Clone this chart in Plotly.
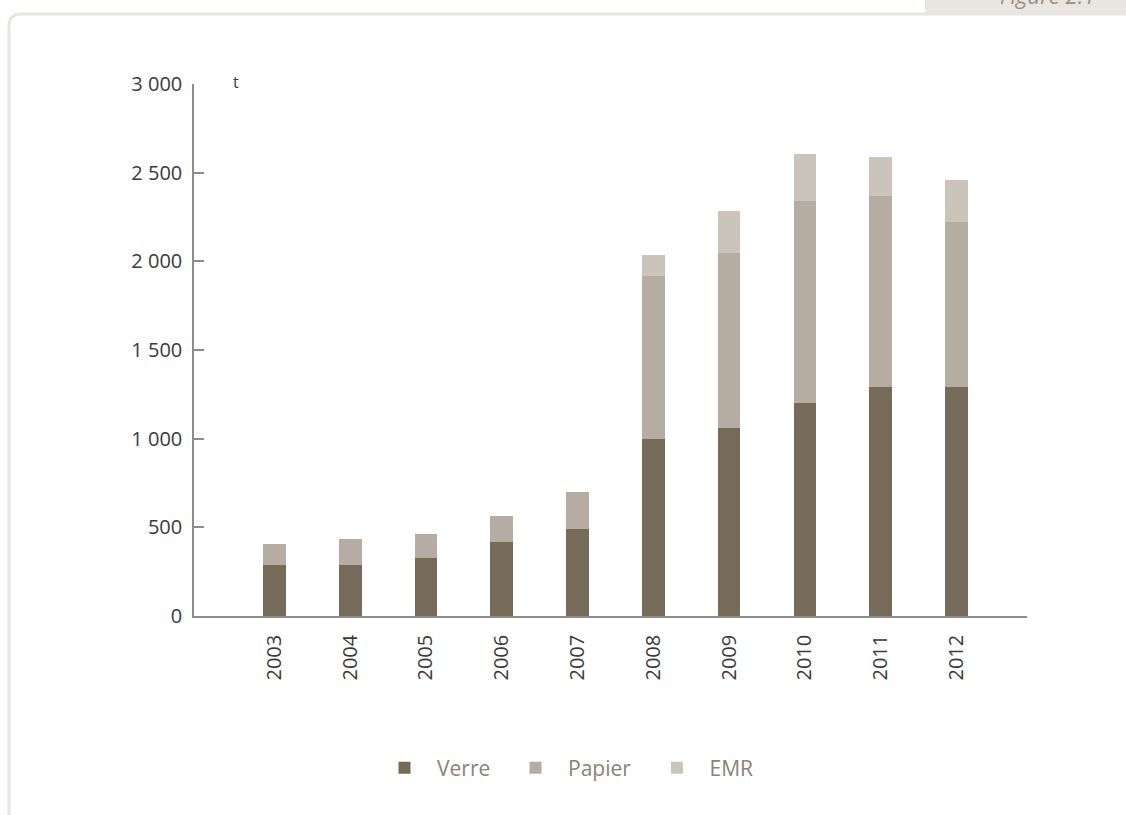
import plotly.graph_objects as go

years = ["2003", "2004", "2005", "2006", "2007", "2008", "2009", "2010", "2011", "2012"]
verre = [288, 288, 328, 418, 490, 1000, 1062, 1202, 1292, 1292]
papier = [117, 145, 133, 145, 208, 918, 985, 1138, 1076, 930]
emr = [0, 0, 0, 0, 0, 118, 238, 265, 220, 237]
series_names = ["Verre", "Papier", "EMR"]
colors = ["#766a58", "#b5ada2", "#cbc4ba"]
y_ticks = [0, 500, 1000, 1500, 2000, 2500, 3000]
y_ticktext = ["0", "500", "1 000", "1 500", "2 000", "2 500", "3 000"]

W, H = 1126, 815
L, R, T, B = 194, 99, 84, 199
pw, ph = W - L - R, H - T - B

def px(x):
    return (x - L) / pw

def py(y):
    return (H - B - y) / ph

legend_ids = ["legend", "legend2", "legend3"]
legend_symbol_x = [404.5, 535.5, 677.0]

fig = go.Figure()
for name, vals, col, lg in zip(series_names, [verre, papier, emr], colors, legend_ids):
    fig.add_trace(go.Bar(x=years, y=vals, name=name, legend=lg,
                         marker=dict(color=col, line=dict(width=0)), width=0.3))

font_fam = "Open Sans"
fig.update_layout(
    width=W, height=H,
    barmode="stack",
    plot_bgcolor="white", paper_bgcolor="white",
    margin=dict(l=L, r=R, t=T, b=B, autoexpand=False),
    font=dict(family=font_fam, color="#3a3a3a"),
    xaxis=dict(
        type="category", range=[-1.06, 9.93],
        showline=True, linecolor="#8c8c8c", linewidth=1.5,
        ticks="", tickangle=-90, ticklabelstandoff=9,
        tickfont=dict(size=20, color="#3a3a3a", family=font_fam),
        showgrid=False, zeroline=False, fixedrange=True,
    ),
    yaxis=dict(
        range=[0, 3000], tickvals=y_ticks, ticktext=y_ticktext,
        showline=True, linecolor="#8c8c8c", linewidth=1.5,
        ticks="inside", ticklen=10, tickcolor="#8c8c8c", tickwidth=1.5,
        ticklabelstandoff=6,
        tickfont=dict(size=20, color="#3a3a3a", family=font_fam),
        showgrid=False, zeroline=False, fixedrange=True,
    ),
    showlegend=True,
)
for lg, sx in zip(legend_ids, legend_symbol_x):
    fig.update_layout({lg: dict(
        orientation="h", x=px(sx - 32.5), xanchor="left", y=py(768), yanchor="middle",
        itemwidth=55, font=dict(size=21, color="#8c8274", family=font_fam),
        bgcolor="rgba(0,0,0,0)", borderwidth=0,
    )})

# outer rounded frame
frame_path = (f"M {px(9)} {py(830)} L {px(9)} {py(26)} Q {px(9)} {py(14)} {px(21)} {py(14)} "
              f"L {px(1140)} {py(14)}")
fig.add_shape(type="path", path=frame_path, xref="paper", yref="paper",
              line=dict(color="#e9e6e2", width=3), layer="below")
# figure tab
fig.add_shape(type="rect", xref="paper", yref="paper",
              x0=px(925), x1=px(1140), y0=py(14), y1=py(-5),
              fillcolor="#e9e6e2", line=dict(width=0), layer="below")
fig.add_annotation(text="<i>Figure 2.1</i>", xref="paper", yref="paper",
                   x=px(1097), y=py(12), xanchor="right", yanchor="bottom",
                   showarrow=False, font=dict(size=22, color="#9a9184", family=font_fam))
# unit label
fig.add_annotation(text="t", xref="paper", yref="paper", x=px(236), y=py(82),
                   xanchor="center", yanchor="middle", showarrow=False,
                   font=dict(size=16, color="#3a3a3a", family=font_fam))

fig.write_html("out.html", config={"displayModeBar": False},
               post_script="document.body.style.margin='0';")
